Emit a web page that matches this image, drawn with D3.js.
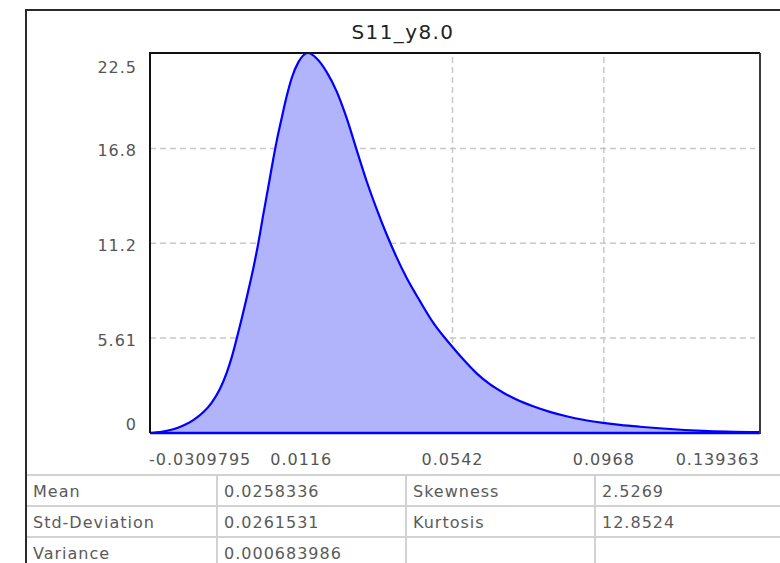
<!DOCTYPE html>
<html>
<head>
<meta charset="utf-8">
<script src="https://cdn.jsdelivr.net/npm/d3@7"></script>
<style>
  body { margin: 0; background: #fff; }
  text { font-family: "DejaVu Sans", Verdana, sans-serif; }
</style>
</head>
<body>
<div id="chart"></div>
<script>
// density curve
const xValues = [-0.0310, -0.0277, -0.0244, -0.0216, -0.0188, -0.0160, -0.0136, -0.0113, -0.0094, -0.0080,
  -0.0066, -0.0052, -0.0038, -0.0026, -0.0019, -0.0005, 0.0009, 0.0023, 0.0037, 0.0047,
  0.0061, 0.0075, 0.0089, 0.0108, 0.0135, 0.0159, 0.0187, 0.0216, 0.0244, 0.0272,
  0.0300, 0.0328, 0.0356, 0.0384, 0.0413, 0.0450, 0.0488, 0.0539, 0.0572, 0.0610,
  0.0647, 0.0685, 0.0722, 0.0769, 0.0816, 0.0863, 0.0910, 0.0966, 0.1013, 0.1069,
  0.1144, 0.1248, 0.1407];
const densities = [0, 0.07, 0.22, 0.44, 0.76, 1.22, 1.80, 2.60, 3.55, 4.45,
  5.55, 6.72, 7.95, 9.05, 9.72, 11.20, 12.88, 14.50, 16.15, 17.25,
  18.60, 19.88, 20.95, 21.90, 22.44, 22.13, 21.34, 20.16, 18.59, 16.72,
  14.88, 13.25, 11.75, 10.40, 9.15, 7.80, 6.50, 5.15, 4.35, 3.52,
  2.88, 2.38, 1.98, 1.58, 1.25, 0.99, 0.78, 0.60, 0.48, 0.37,
  0.25, 0.13, 0.05];

const title = "S11_y8.0";
const yMax = 22.44;
const yTicks = [0, 5.61, 11.2, 16.8, 22.5];
const xTicks = [-0.0309795, 0.0116, 0.0542, 0.0968, 0.139363];

const statNames1 = ["Mean", "Std-Deviation", "Variance"];
const statValues1 = ["0.0258336", "0.0261531", "0.000683986"];
const statNames2 = ["Skewness", "Kurtosis", ""];
const statValues2 = ["2.5269", "12.8524", ""];

const W = 780, H = 563;
const plot = { left: 150, top: 53, right: 760, bottom: 433 };

const svg = d3.select("#chart").append("svg")
  .attr("width", W)
  .attr("height", H);

const x = d3.scaleLinear()
  .domain([xTicks[0], xTicks[xTicks.length - 1]])
  .range([plot.left, 755]);
const y = d3.scaleLinear()
  .domain([0, yMax])
  .range([plot.bottom, plot.top]);

// outer frame (only top + left visible)
svg.append("path")
  .attr("d", `M26,${H} L26,10 L${W},10`)
  .attr("fill", "none")
  .attr("stroke", "#2a2a2a")
  .attr("stroke-width", 2);

svg.append("text")
  .attr("x", 403)
  .attr("y", 32)
  .attr("text-anchor", "middle")
  .attr("dominant-baseline", "central")
  .attr("font-size", 20)
  .attr("letter-spacing", 1.4)
  .attr("fill", "#222")
  .text(title);

// grid
const grid = svg.append("g")
  .attr("stroke", "#c8c8c8")
  .attr("stroke-width", 1.5)
  .attr("stroke-dasharray", "6,4");

grid.selectAll("line.h").data(yTicks.slice(1, -1)).enter().append("line")
  .attr("class", "h")
  .attr("x1", plot.left).attr("x2", 755)
  .attr("y1", d => y(d)).attr("y2", d => y(d));

grid.selectAll("line.v").data(xTicks.slice(1, -1)).enter().append("line")
  .attr("class", "v")
  .attr("x1", d => x(d)).attr("x2", d => x(d))
  .attr("y1", plot.top + 4).attr("y2", plot.bottom);

// density area
const points = xValues.map((v, i) => [v, densities[i]]);

svg.append("clipPath").attr("id", "plot-clip")
  .append("rect")
  .attr("x", plot.left).attr("y", plot.top - 2)
  .attr("width", plot.right - plot.left).attr("height", plot.bottom - plot.top + 4);

const area = d3.area()
  .x(d => x(d[0]))
  .y0(y(0))
  .y1(d => y(d[1]))
  .curve(d3.curveMonotoneX);

const line = d3.line()
  .x(d => x(d[0]))
  .y(d => y(d[1]))
  .curve(d3.curveMonotoneX);

const g = svg.append("g").attr("clip-path", "url(#plot-clip)");

g.append("path")
  .datum(points)
  .attr("d", area)
  .attr("fill", "#b1b4fa");

g.append("path")
  .datum(points)
  .attr("d", line)
  .attr("fill", "none")
  .attr("stroke", "#0000ff")
  .attr("stroke-width", 2.2);

// baseline
svg.append("line")
  .attr("x1", plot.left).attr("x2", plot.right)
  .attr("y1", y(0)).attr("y2", y(0))
  .attr("stroke", "#0000ff")
  .attr("stroke-width", 2.5);

// plot frame: left/top black, right dark grey
svg.append("path")
  .attr("d", `M${plot.left},${plot.bottom} L${plot.left},${plot.top} L${plot.right},${plot.top}`)
  .attr("fill", "none")
  .attr("stroke", "#111")
  .attr("stroke-width", 2);
svg.append("line")
  .attr("x1", plot.right).attr("x2", plot.right)
  .attr("y1", plot.top).attr("y2", plot.bottom + 1)
  .attr("stroke", "#3a3a3a")
  .attr("stroke-width", 2);

// y tick labels (clamped inside the plot height)
svg.append("g").selectAll("text").data(yTicks).enter().append("text")
  .attr("x", 137)
  .attr("y", d => Math.max(67, Math.min(424, y(d) + 2)))
  .attr("text-anchor", "end")
  .attr("dominant-baseline", "central")
  .attr("font-size", 16)
  .attr("letter-spacing", 1)
  .attr("fill", "#555")
  .text(d => d3.format("")(d));

// x tick labels: first left aligned, last right aligned
svg.append("g").selectAll("text").data(xTicks).enter().append("text")
  .attr("x", (d, i) => i === 0 ? plot.left - 1 : i === xTicks.length - 1 ? plot.right : x(d))
  .attr("y", 459)
  .attr("text-anchor", (d, i) => i === 0 ? "start" : i === xTicks.length - 1 ? "end" : "middle")
  .attr("dominant-baseline", "central")
  .attr("font-size", 16)
  .attr("letter-spacing", 1)
  .attr("fill", "#555")
  .text(d => String(d));

// statistics table
const rowTop = 475, rowH = 31;
const colX = [26, 217, 406, 595];
const table = svg.append("g");

table.selectAll("line.row").data(d3.range(statNames1.length + 1)).enter().append("line")
  .attr("class", "row")
  .attr("x1", 27).attr("x2", W)
  .attr("y1", i => rowTop + i * rowH).attr("y2", i => rowTop + i * rowH)
  .attr("stroke", "#d2d2d2")
  .attr("stroke-width", 2);

table.selectAll("line.col").data(colX.slice(1)).enter().append("line")
  .attr("class", "col")
  .attr("x1", d => d).attr("x2", d => d)
  .attr("y1", rowTop).attr("y2", H)
  .attr("stroke", "#d2d2d2")
  .attr("stroke-width", 2);

const columns = [statNames1, statValues1, statNames2, statValues2];
columns.forEach((col, c) => {
  table.append("g").selectAll("text").data(col).enter().append("text")
    .attr("x", colX[c] + 7)
    .attr("y", (d, i) => rowTop + i * rowH + rowH / 2 + 1)
    .attr("dominant-baseline", "central")
    .attr("font-size", 16)
    .attr("letter-spacing", 1)
    .attr("fill", "#5a5a5a")
    .text(d => d);
});
</script>
</body>
</html>
